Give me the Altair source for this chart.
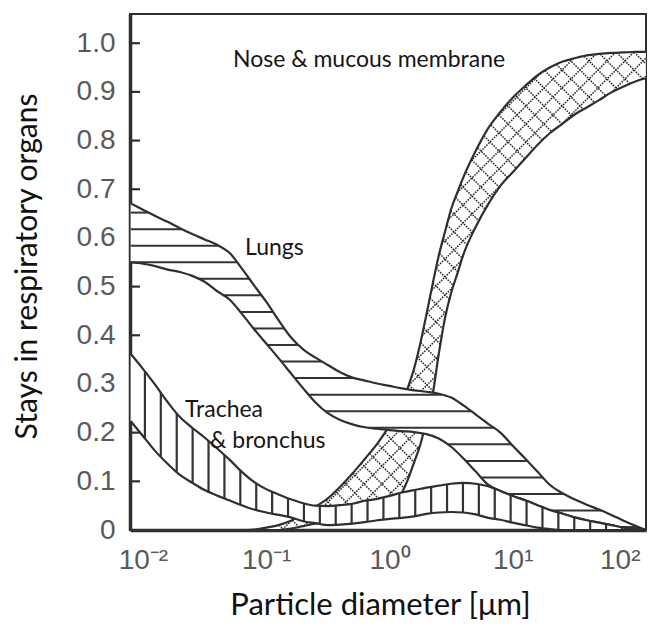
import altair as alt
import numpy as np
import pandas as pd

# ---------------- data ----------------
# log10 of particle diameter [um] at which the lungs / trachea bands were read
band_logd = [-2.1, -2.0, -1.9, -1.8, -1.7, -1.6, -1.5, -1.4, -1.3, -1.2, -1.1, -1.0,
             -0.9, -0.8, -0.7, -0.6, -0.5, -0.4, -0.3, -0.2, -0.1, 0.0,
             0.1, 0.2, 0.3, 0.4, 0.5, 0.6, 0.7, 0.8, 0.9, 1.0,
             1.1, 1.2, 1.3, 1.4, 1.5, 1.6, 1.7, 1.8, 1.9, 2.0, 2.08]
lungs_upper = [0.671, 0.658, 0.645, 0.633, 0.620, 0.608, 0.597, 0.586, 0.570, 0.538, 0.503, 0.469,
               0.431, 0.396, 0.371, 0.354, 0.339, 0.324, 0.313, 0.307, 0.301, 0.296,
               0.291, 0.287, 0.284, 0.280, 0.272, 0.256, 0.237, 0.218, 0.200, 0.173,
               0.147, 0.120, 0.093, 0.076, 0.063, 0.052, 0.042, 0.031, 0.019, 0.008, 0.0]
lungs_lower = [0.550, 0.547, 0.542, 0.535, 0.530, 0.522, 0.510, 0.491, 0.474, 0.445, 0.413, 0.383,
               0.353, 0.322, 0.291, 0.262, 0.240, 0.226, 0.217, 0.211, 0.208, 0.205,
               0.203, 0.201, 0.197, 0.188, 0.171, 0.147, 0.120, 0.093, 0.080, 0.070,
               0.061, 0.051, 0.041, 0.034, 0.026, 0.020, 0.015, 0.010, 0.005, 0.002, 0.0]
trachea_upper = [0.362, 0.331, 0.298, 0.263, 0.232, 0.210, 0.190, 0.168, 0.145, 0.120, 0.099, 0.084,
                 0.073, 0.063, 0.055, 0.050, 0.049, 0.051, 0.054, 0.060, 0.064, 0.070,
                 0.077, 0.082, 0.087, 0.091, 0.095, 0.097, 0.095, 0.090, 0.080, 0.070,
                 0.061, 0.051, 0.041, 0.034, 0.026, 0.020, 0.015, 0.010, 0.005, 0.002, 0.0]
trachea_lower = [0.224, 0.193, 0.162, 0.136, 0.113, 0.097, 0.082, 0.071, 0.061, 0.051, 0.042, 0.036,
                 0.031, 0.026, 0.018, 0.014, 0.010, 0.011, 0.013, 0.016, 0.020, 0.023,
                 0.025, 0.028, 0.033, 0.036, 0.037, 0.036, 0.032, 0.025, 0.021, 0.015,
                 0.010, 0.005, 0.002, 0.0, 0.0, 0.0, 0.0, 0.0, 0.0, 0.0, 0.0]

nose_logd = [-1.2, -1.1, -1.0, -0.9, -0.8, -0.7, -0.6, -0.5, -0.4, -0.3, -0.2, -0.1,
             -0.05, 0.0, 0.05, 0.1, 0.15, 0.2, 0.25, 0.3, 0.35, 0.4, 0.45, 0.5, 0.55, 0.6,
             0.7, 0.8, 0.9, 1.0, 1.1, 1.2, 1.3, 1.4, 1.5, 1.6, 1.7, 1.8, 1.9, 2.0, 2.08]
nose_upper = [0.0, 0.001, 0.005, 0.010, 0.019, 0.033, 0.048, 0.065, 0.089, 0.116, 0.146, 0.177,
              0.195, 0.214, 0.233, 0.260, 0.293, 0.332, 0.383, 0.443, 0.505, 0.564, 0.612, 0.659, 0.693, 0.725,
              0.779, 0.825, 0.859, 0.888, 0.912, 0.934, 0.950, 0.962, 0.969, 0.975, 0.978, 0.980, 0.981, 0.982,
              0.982]
nose_lower = [0.0, 0.0, 0.0, 0.0, 0.003, 0.008, 0.013, 0.016, 0.019, 0.022, 0.025, 0.028,
              0.031, 0.037, 0.053, 0.076, 0.104, 0.139, 0.175, 0.226, 0.278, 0.362, 0.435, 0.487, 0.526, 0.566,
              0.623, 0.669, 0.707, 0.735, 0.763, 0.791, 0.815, 0.834, 0.853, 0.868, 0.883, 0.899, 0.911, 0.922,
              0.928]

ann_text = ["Nose & mucous membrane", "Lungs", "Trachea", "& bronchus"]
ann_logd = [-1.270, -1.172, -1.659, -1.456]
ann_v = [0.951, 0.565, 0.232, 0.168]

x_tick_values = [0.01, 0.1, 1, 10, 100]
x_tick_labels = ["10\u207b\u00b2", "10\u207b\u00b9", "10\u2070", "10\u00b9", "10\u00b2"]
y_tick_values = [0, 0.1, 0.2, 0.3, 0.4, 0.5, 0.6, 0.7, 0.8, 0.9, 1.0]

# ---------------- layout / style ----------------
W = H = 516
LOG_MIN, LOG_MAX = -2.105, 2.081
V_MAX = 1.06
EDGE = "#2f2f2f"
LABEL_GRAY = "#5a5a5a"

xscale = alt.Scale(type="log", domain=[10 ** LOG_MIN, 10 ** LOG_MAX], nice=False)
yscale = alt.Scale(domain=[0, V_MAX], nice=False, zero=False)

label_expr_x = "[" + ",".join("'" + s + "'" for s in x_tick_labels) + "][round(log(datum.value)/LN10)+2]"

xaxis = alt.Axis(values=x_tick_values, labelExpr=label_expr_x, title="Particle diameter [\u03bcm]",
                 ticks=False, tickSize=0, grid=False, domainWidth=3.5, domainColor=EDGE,
                 labelFont="Liberation Sans", labelFontSize=28, labelColor=LABEL_GRAY,
                 labelPadding=16, labelFlush=11, labelFlushOffset=4, labelOverlap=False,
                 titleFont="Lato", titleFontSize=31, titleFontWeight="normal", titleColor="#111111",
                 titleX=250, titleY=84, titleBaseline="alphabetic", titleAlign="center")
yaxis = alt.Axis(values=y_tick_values,
                 labelExpr="datum.value == 0 ? '0' : format(datum.value, '.1f')",
                 title="Stays in respiratory organs",
                 ticks=False, tickSize=0, grid=False, domainWidth=3.5, domainColor=EDGE,
                 labelFont="Liberation Sans", labelFontSize=28, labelColor=LABEL_GRAY,
                 labelPadding=15, labelOverlap=False,
                 titleFont="Lato", titleFontSize=30, titleFontWeight="normal", titleColor="#111111",
                 titleX=-94, titleY=252, titleAngle=270, titleBaseline="alphabetic", titleAlign="center")


def X(f):
    return alt.X(f, type="quantitative", scale=xscale, axis=xaxis)


def Y(f):
    return alt.Y(f, type="quantitative", scale=yscale, axis=yaxis)


def from_px(p):
    return LOG_MIN + np.asarray(p) / W * (LOG_MAX - LOG_MIN)


def to_py(v):
    return H * (1 - np.asarray(v) / V_MAX)


def from_py(p):
    return V_MAX * (1 - np.asarray(p) / H)


def runs(mask):
    d = np.diff(np.concatenate([[0], mask.astype(int), [0]]))
    idx = np.flatnonzero(d)
    return list(zip(idx[::2], idx[1::2]))


px_s = np.arange(0, W + 0.001, 0.25)
u_s = from_px(px_s)

# --- lungs: horizontal stripes ---
bl = np.array(band_logd)
lu = np.interp(u_s, bl, lungs_upper)
ll = np.interp(u_s, bl, lungs_lower)
lung_rows = []
for k in range(20):
    lev = 0.652 - 0.034 * k
    m = (lev < lu) & (lev > ll) & (u_s >= bl[0]) & (u_s <= bl[-1])
    for a, b in runs(m):
        if b - a < 3:
            continue
        lung_rows.append(dict(x1=10 ** u_s[a], x2=10 ** u_s[b - 1], y1=lev, y2=lev))
lung_hatch = pd.DataFrame(lung_rows)

# --- trachea: vertical stripes ---
trach_rows = []
for j in range(40):
    u = -1.984 + 0.129 * j
    if u > bl[-1]:
        break
    lo = float(np.interp(u, bl, trachea_lower))
    hi = float(np.interp(u, bl, trachea_upper))
    if hi - lo > 0.004:
        trach_rows.append(dict(x1=10 ** u, x2=10 ** u, y1=lo, y2=hi))
trach_hatch = pd.DataFrame(trach_rows)

# --- nose: diagonal cross hatch ---
nl = np.array(nose_logd)
top = to_py(np.interp(u_s, nl, nose_upper))
bot = to_py(np.interp(u_s, nl, nose_lower))
valid = (u_s >= nl[0]) & (u_s <= nl[-1])
nose_rows = []
STEP = 18.0
for sign in (1, -1):
    cs = np.arange(-W - 40, W + H + 40, STEP)
    for c in cs:
        py = sign * px_s + c
        m = valid & (py >= top) & (py <= bot) & (py >= 0) & (py <= H)
        for a, b in runs(m):
            if b - a < 3:
                continue
            p0, p1 = px_s[a], px_s[b - 1]
            nose_rows.append(dict(x1=10 ** float(from_px(p0)), x2=10 ** float(from_px(p1)),
                                  y1=float(from_py(sign * p0 + c)), y2=float(from_py(sign * p1 + c))))
nose_hatch = pd.DataFrame(nose_rows)

band_df = pd.DataFrame({
    "d": [10 ** u for u in band_logd],
    "lungs_upper": lungs_upper, "lungs_lower": lungs_lower,
    "trachea_upper": trachea_upper, "trachea_lower": trachea_lower,
})
nose_df = pd.DataFrame({"d": [10 ** u for u in nose_logd], "nose_upper": nose_upper, "nose_lower": nose_lower})
ann_df = pd.DataFrame({"label": ann_text, "d": [10 ** u for u in ann_logd], "v": ann_v})
tick_df = pd.DataFrame({"v": y_tick_values[1:]})

layers = []
# inner y ticks
layers.append(alt.Chart(tick_df).mark_rule(color=EDGE, strokeWidth=2.2).encode(
    y=Y("v"), x=alt.value(0), x2=alt.value(10)))


def band(df, up, lo, hatch, hatch_mark):
    out = [alt.Chart(df).mark_area(color="white", interpolate="monotone", opacity=1).encode(
        x=X("d"), y=Y(up), y2=alt.Y2(lo))]
    out.append(alt.Chart(hatch).mark_rule(**hatch_mark).encode(
        x=X("x1"), x2=alt.X2("x2"), y=Y("y1"), y2=alt.Y2("y2")))
    for f in (up, lo):
        out.append(alt.Chart(df).mark_line(color=EDGE, strokeWidth=2.2, interpolate="monotone").encode(
            x=X("d"), y=Y(f)))
    return out


layers += band(nose_df, "nose_upper", "nose_lower", nose_hatch,
               dict(color="#2a2a2a", strokeWidth=1.5, strokeDash=[1.6, 1.1]))
layers += band(band_df, "lungs_upper", "lungs_lower", lung_hatch,
               dict(color="#333333", strokeWidth=2.0))
layers += band(band_df, "trachea_upper", "trachea_lower", trach_hatch,
               dict(color="#333333", strokeWidth=2.2))

layers.append(alt.Chart(ann_df).mark_text(font="Lato", fontSize=23, align="left", baseline="alphabetic",
                                          color="#161616").encode(x=X("d"), y=Y("v"), text="label"))

chart = alt.layer(*layers).properties(
    width=W, height=H,
    padding={"left": 122, "top": 6, "right": 5, "bottom": 92},
    autosize=alt.AutoSizeParams(type="none"),
    background="white",
).configure_view(stroke=EDGE, strokeWidth=2)

chart.save("out.html", embed_options={"renderer": "svg", "actions": False})
